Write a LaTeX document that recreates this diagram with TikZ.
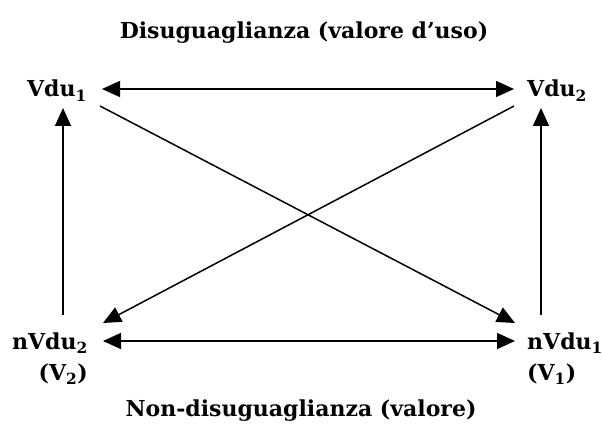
\documentclass[tikz,border=0pt]{standalone}
\usepackage{fontspec}
\setmainfont{DejaVu Serif}
\usetikzlibrary{arrows.meta,positioning,calc}
\newcommand{\ix}[1]{\textsubscript{#1}}

\begin{document}
\begin{tikzpicture}[
    x=1pt, y=-1pt,
    lbl/.style={font=\fontsize{22}{26}\selectfont\bfseries, inner sep=0pt},
    head/.style={font=\fontsize{22}{26}\selectfont\bfseries, inner sep=0pt},
    arrow/.style={-{Triangle[length=18pt,width=16pt]}, line width=1.5pt},
    twoway/.style={{Triangle[length=18pt,width=16pt]}-{Triangle[length=18pt,width=16pt]}, line width=1.5pt}
]
    \useasboundingbox (0,0) rectangle (602,430);

    % titles
    \node[head, anchor=base] (useval) at (304,39) {Disuguaglianza (valore d’uso)};
    \node[head, anchor=base] (val) at (301,416) {Non-disuguaglianza (valore)};

    % corners
    \node[lbl, anchor=base east] (vduA) at (87,97) {Vdu\ix{1}};
    \node[lbl, anchor=base west] (vduB) at (527,97) {Vdu\ix{2}};
    \node[lbl, anchor=base east] (nvduB) at (88,349) {nVdu\ix{2}};
    \node[lbl, anchor=base east] (vB) at (88,380) {(V\ix{2})};
    \node[lbl, anchor=base west] (nvduA) at (527,349) {nVdu\ix{1}};
    \node[lbl, anchor=base west] (vA) at (527,380) {(V\ix{1})};

    % columns of the vertical arrows
    \coordinate (colL) at (63,0);
    \coordinate (colR) at (541,0);

    \draw[twoway] ($(vduA.base east)+(15,-8)$) -- ($(vduB.base west)+(-13,-8)$);
    \draw[twoway] ($(nvduB.base east)+(15,-8)$) -- ($(nvduA.base west)+(-12,-8)$);

    \draw[arrow] ($(nvduB.base east -| colL)+(0,-34)$) -- ($(vduA.base east -| colL)+(0,11)$);
    \draw[arrow] ($(nvduA.base west -| colR)+(0,-34)$) -- ($(vduB.base west -| colR)+(0,11)$);

    \draw[arrow] ($(vduA.base east)+(13,9)$) -- ($(nvduA.base west)+(-12,-26)$);
    \draw[arrow] ($(vduB.base west)+(-13,9)$) -- ($(nvduB.base east)+(15,-26)$);
\end{tikzpicture}
\end{document}
